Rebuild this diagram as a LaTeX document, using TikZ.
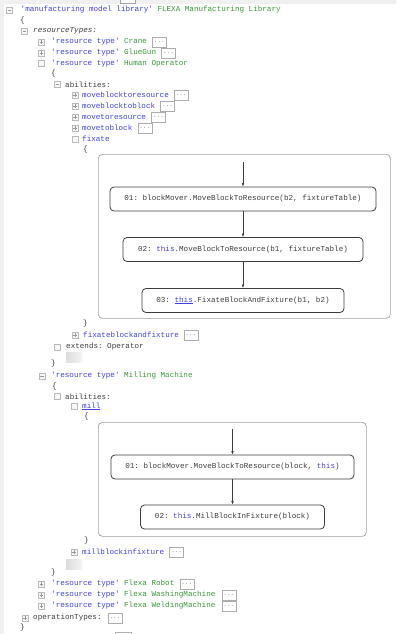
\documentclass[tikz,border=0pt]{standalone}
\usepackage{fontspec}
\setmonofont{Liberation Mono}
\usetikzlibrary{arrows.meta}
\definecolor{kwblue}{RGB}{64,64,220}
\definecolor{idgreen}{RGB}{56,150,56}
\definecolor{ink}{RGB}{60,60,60}
\newcommand\codefont{\fontsize{7.6}{9}\selectfont\ttfamily}
\newcommand\kw[1]{\textcolor{kwblue}{#1}}
\newcommand\nm[1]{\textcolor{idgreen}{#1}}
\begin{document}
\begin{tikzpicture}[x=1pt,y=-1pt,
  line/.style={anchor=west, inner sep=0pt, font=\codefont, text=ink},
  ico/.style={draw=gray!55, fill=gray!6, minimum size=6pt, inner sep=0pt, line width=0.5pt},
  icominus/.style={ico, path picture={\draw[gray!80,line width=0.5pt]
      ([xshift=1.3pt]path picture bounding box.west) -- ([xshift=-1.3pt]path picture bounding box.east);}},
  icoplus/.style={ico, path picture={\draw[gray!80,line width=0.5pt]
      ([xshift=1.3pt]path picture bounding box.west) -- ([xshift=-1.3pt]path picture bounding box.east)
      ([yshift=-1.3pt]path picture bounding box.north) -- ([yshift=1.3pt]path picture bounding box.south);}},
  more/.style={draw=gray!65, fill=white, inner sep=0pt, minimum width=14pt, minimum height=10pt,
      anchor=west, font=\fontsize{6}{6}\selectfont\ttfamily, text=gray},
  frame/.style={draw=gray!75, rounded corners=4pt, line width=0.7pt, inner sep=0pt, anchor=north west},
  opbox/.style={draw=ink, fill=white, rounded corners=4pt, minimum height=24pt, inner sep=0pt,
      font=\codefont, text=ink, line width=0.8pt},
  flow/.style={-{Latex[length=3.5pt,width=2.6pt]}, draw=ink, line width=0.6pt},
  holder/.style={left color=gray!28, right color=gray!8, draw=none, inner sep=0pt,
      minimum width=16pt, minimum height=10pt, anchor=north west}
]
\useasboundingbox (0,0) rectangle (396,634);
\fill[white] (0,0) rectangle (396,634);
% window edges
\fill[gray!12] (0,0) rectangle (396,4);
\fill[gray!12] (0,0) rectangle (4,634);
\draw[gray!70, fill=white] (120,-3) rectangle (135,3.5);
\draw[gray!60, fill=white] (115,632) rectangle (131,638);

% library header
\node[icominus] (i1) at (9.5,10) {};
\node[line] (l1) at (20.5,10) {\kw{'manufacturing model library'} \nm{FLEXA Manufacturing Library}};
\node[line] (b1) at (20,21) {\{};
\node[icominus] (i2) at (24.5,31) {};
\node[line] (l2) at (33,31) {\itshape resourceTypes:};

% collapsed resource types
\node[icoplus] (i3) at (41.5,42) {};
\node[line] (l3) at (51,42) {\kw{'resource type'} \nm{Crane}};
\node[more] (d3) at ([xshift=5pt]l3.east) {...};
\node[icoplus] (i4) at (41.5,53) {};
\node[line] (l4) at (51,53) {\kw{'resource type'} \nm{GlueGun}};
\node[more] (d4) at ([xshift=5pt]l4.east) {...};

% Human Operator
\node[ico] (i5) at (41.5,63.5) {};
\node[line] (l5) at (51,63.5) {\kw{'resource type'} \nm{Human Operator}};
\node[line] (b2) at (51,74) {\{};
\node[icominus] (i6) at (57.5,84.5) {};
\node[line] (l6) at (65,84.5) {abilities:};
\node[icoplus] (i7) at (75,95) {};
\node[line] (l7) at (82,95) {\kw{moveblocktoresource}};
\node[more] (d7) at ([xshift=5pt]l7.east) {...};
\node[icoplus] (i8) at (75,106) {};
\node[line] (l8) at (82,106) {\kw{moveblocktoblock}};
\node[more] (d8) at ([xshift=5pt]l8.east) {...};
\node[icoplus] (i9) at (75,117) {};
\node[line] (l9) at (82,117) {\kw{movetoresource}};
\node[more] (d9) at ([xshift=5pt]l9.east) {...};
\node[icoplus] (i10) at (75,128) {};
\node[line] (l10) at (82,128) {\kw{movetoblock}};
\node[more] (d10) at ([xshift=5pt]l10.east) {...};
\node[ico] (i11) at (75,139) {};
\node[line] (l11) at (82,139) {\kw{fixate}};
\node[line] (b3) at (83,149.5) {\{};

% fixate flow
\node[frame, minimum width=292pt, minimum height=164pt] (fx) at (98,154) {};
\coordinate (f0) at (243,162);
\node[opbox, minimum width=266pt] (f1) at (243,199) {01: blockMover.MoveBlockToResource(b2, fixtureTable)};
\node[opbox, minimum width=240pt] (f2) at (243,249.5) {02: \kw{this}.MoveBlockToResource(b1, fixtureTable)};
\node[opbox, minimum width=202pt] (f3) at (243,300.5) {03: \kw{\underline{this}}.FixateBlockAndFixture(b1, b2)};
\draw[flow] (f0) -- (f1);
\draw[flow] (f1) -- (f2);
\draw[flow] (f2) -- (f3);

\node[line] (b4) at (83,323.5) {\}};
\node[icoplus] (i12) at (75,335) {};
\node[line] (l12) at (83,335) {\kw{fixateblockandfixture}};
\node[more] (d12) at ([xshift=4.5pt]l12.east) {...};
\node[ico] (i13) at (57.5,347) {};
\node[line] (l13) at (66,347) {extends: Operator};
\node[holder] (h1) at (66,352) {};
\node[line] (b5) at (51,364) {\}};

% Milling Machine
\node[icominus] (i14) at (42,376) {};
\node[line] (l14) at (51,376) {\kw{'resource type'} \nm{Milling Machine}};
\node[line] (b6) at (52,386.5) {\{};
\node[ico] (i15) at (57.5,396.5) {};
\node[line] (l15) at (65,396.5) {abilities:};
\node[ico] (i16) at (74,406.5) {};
\node[line] (l16) at (82,406.5) {\kw{\underline{mill}}};
\node[line] (b7) at (84,417) {\{};

% mill flow
\node[frame, minimum width=268pt, minimum height=114pt] (mx) at (98,422) {};
\coordinate (m0) at (232.5,429);
\node[opbox, minimum width=243pt] (m1) at (232.5,467) {01: blockMover.MoveBlockToResource(block, \kw{this})};
\node[opbox, minimum width=184pt] (m2) at (232.5,517) {02: \kw{this}.MillBlockInFixture(block)};
\draw[flow] (m0) -- (m1);
\draw[flow] (m1) -- (m2);

\node[line] (b8) at (84,541) {\}};
\node[icoplus] (i17) at (74,552) {};
\node[line] (l17) at (82,552) {\kw{millblockinfixture}};
\node[more] (d17) at ([xshift=5pt]l17.east) {...};
\node[holder] (h2) at (66,559) {};
\node[line] (b9) at (51,573) {\}};

% remaining resource types
\node[icoplus] (i18) at (41.5,584) {};
\node[line] (l18) at (51,584) {\kw{'resource type'} \nm{Flexa Robot}};
\node[more] (d18) at ([xshift=5pt]l18.east) {...};
\node[icoplus] (i19) at (41.5,595) {};
\node[line] (l19) at (51,595) {\kw{'resource type'} \nm{Flexa WashingMachine}};
\node[more] (d19) at ([xshift=6pt]l19.east) {...};
\node[icoplus] (i20) at (41.5,606) {};
\node[line] (l20) at (51,606) {\kw{'resource type'} \nm{Flexa WeldingMachine}};
\node[more] (d20) at ([xshift=6pt]l20.east) {...};

% operation types
\node[icoplus] (i21) at (25,618) {};
\node[line] (l21) at (33,618) {operationTypes:};
\node[more] (d21) at ([xshift=6pt]l21.east) {...};
\node[line] (b10) at (20,628) {\}};
\end{tikzpicture}
\end{document}
